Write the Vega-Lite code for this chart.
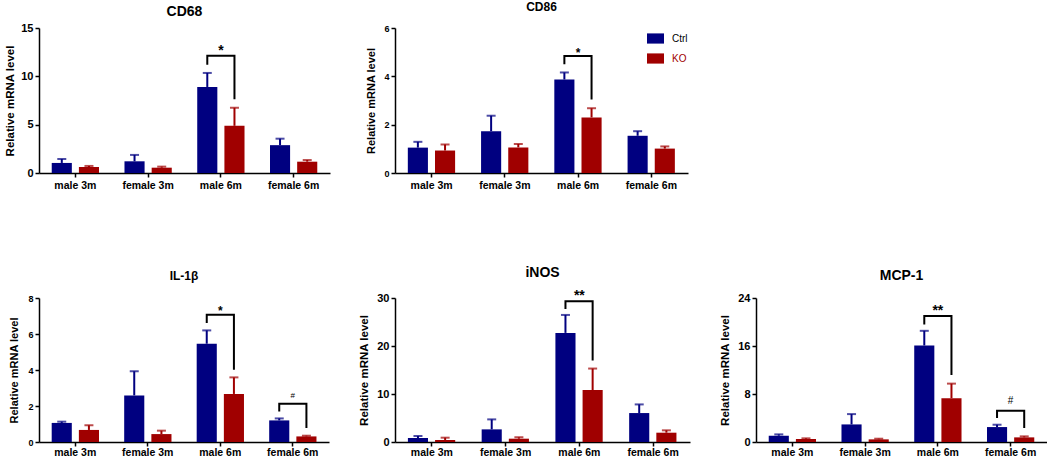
{
"$schema": "https://vega.github.io/schema/vega-lite/v6.json",
"padding": {"left": 4, "top": 1, "right": 0, "bottom": 0},
"datasets": {
"bars": [
{"p":"CD68","cat":"male 3m","grp":"Ctrl","v":1.04,"e":1.45},
{"p":"CD68","cat":"male 3m","grp":"KO","v":0.62,"e":0.73},
{"p":"CD68","cat":"female 3m","grp":"Ctrl","v":1.21,"e":1.87},
{"p":"CD68","cat":"female 3m","grp":"KO","v":0.55,"e":0.66},
{"p":"CD68","cat":"male 6m","grp":"Ctrl","v":8.9,"e":10.35},
{"p":"CD68","cat":"male 6m","grp":"KO","v":4.88,"e":6.75},
{"p":"CD68","cat":"female 6m","grp":"Ctrl","v":2.88,"e":3.55},
{"p":"CD68","cat":"female 6m","grp":"KO","v":1.17,"e":1.34},
{"p":"CD86","cat":"male 3m","grp":"Ctrl","v":1.05,"e":1.29},
{"p":"CD86","cat":"male 3m","grp":"KO","v":0.93,"e":1.18},
{"p":"CD86","cat":"female 3m","grp":"Ctrl","v":1.73,"e":2.37},
{"p":"CD86","cat":"female 3m","grp":"KO","v":1.06,"e":1.2},
{"p":"CD86","cat":"male 6m","grp":"Ctrl","v":3.87,"e":4.16},
{"p":"CD86","cat":"male 6m","grp":"KO","v":2.3,"e":2.68},
{"p":"CD86","cat":"female 6m","grp":"Ctrl","v":1.54,"e":1.73},
{"p":"CD86","cat":"female 6m","grp":"KO","v":1.01,"e":1.1},
{"p":"IL1b","cat":"male 3m","grp":"Ctrl","v":1.06,"e":1.13},
{"p":"IL1b","cat":"male 3m","grp":"KO","v":0.67,"e":0.93},
{"p":"IL1b","cat":"female 3m","grp":"Ctrl","v":2.59,"e":3.93},
{"p":"IL1b","cat":"female 3m","grp":"KO","v":0.44,"e":0.63},
{"p":"IL1b","cat":"male 6m","grp":"Ctrl","v":5.46,"e":6.2},
{"p":"IL1b","cat":"male 6m","grp":"KO","v":2.67,"e":3.59},
{"p":"IL1b","cat":"female 6m","grp":"Ctrl","v":1.2,"e":1.31},
{"p":"IL1b","cat":"female 6m","grp":"KO","v":0.31,"e":0.35},
{"p":"iNOS","cat":"male 3m","grp":"Ctrl","v":0.83,"e":1.25},
{"p":"iNOS","cat":"male 3m","grp":"KO","v":0.42,"e":0.9},
{"p":"iNOS","cat":"female 3m","grp":"Ctrl","v":2.63,"e":4.71},
{"p":"iNOS","cat":"female 3m","grp":"KO","v":0.69,"e":0.97},
{"p":"iNOS","cat":"male 6m","grp":"Ctrl","v":22.73,"e":26.47},
{"p":"iNOS","cat":"male 6m","grp":"KO","v":10.81,"e":15.3},
{"p":"iNOS","cat":"female 6m","grp":"Ctrl","v":6.03,"e":7.83},
{"p":"iNOS","cat":"female 6m","grp":"KO","v":1.94,"e":2.43},
{"p":"MCP1","cat":"male 3m","grp":"Ctrl","v":1.05,"e":1.27},
{"p":"MCP1","cat":"male 3m","grp":"KO","v":0.5,"e":0.61},
{"p":"MCP1","cat":"female 3m","grp":"Ctrl","v":2.93,"e":4.65},
{"p":"MCP1","cat":"female 3m","grp":"KO","v":0.44,"e":0.55},
{"p":"MCP1","cat":"male 6m","grp":"Ctrl","v":16.09,"e":18.53},
{"p":"MCP1","cat":"male 6m","grp":"KO","v":7.3,"e":9.73},
{"p":"MCP1","cat":"female 6m","grp":"Ctrl","v":2.49,"e":2.88},
{"p":"MCP1","cat":"female 6m","grp":"KO","v":0.77,"e":0.94}
],
"brk": [
{"p":"CD68","b":"a","cat":"male 6m","grp":"Ctrl","y":11.19,"o":1},
{"p":"CD68","b":"a","cat":"male 6m","grp":"Ctrl","y":12.12,"o":2},
{"p":"CD68","b":"a","cat":"male 6m","grp":"KO","y":12.12,"o":3},
{"p":"CD68","b":"a","cat":"male 6m","grp":"KO","y":7.62,"o":4},
{"p":"CD86","b":"a","cat":"male 6m","grp":"Ctrl","y":4.5,"o":1},
{"p":"CD86","b":"a","cat":"male 6m","grp":"Ctrl","y":4.84,"o":2},
{"p":"CD86","b":"a","cat":"male 6m","grp":"KO","y":4.84,"o":3},
{"p":"CD86","b":"a","cat":"male 6m","grp":"KO","y":3.04,"o":4},
{"p":"IL1b","b":"a","cat":"male 6m","grp":"Ctrl","y":6.61,"o":1},
{"p":"IL1b","b":"a","cat":"male 6m","grp":"Ctrl","y":7.07,"o":2},
{"p":"IL1b","b":"a","cat":"male 6m","grp":"KO","y":7.07,"o":3},
{"p":"IL1b","b":"a","cat":"male 6m","grp":"KO","y":4.02,"o":4},
{"p":"IL1b","b":"b","cat":"female 6m","grp":"Ctrl","y":1.7,"o":1},
{"p":"IL1b","b":"b","cat":"female 6m","grp":"Ctrl","y":2.13,"o":2},
{"p":"IL1b","b":"b","cat":"female 6m","grp":"KO","y":2.13,"o":3},
{"p":"IL1b","b":"b","cat":"female 6m","grp":"KO","y":0.78,"o":4},
{"p":"iNOS","b":"a","cat":"male 6m","grp":"Ctrl","y":27.7,"o":1},
{"p":"iNOS","b":"a","cat":"male 6m","grp":"Ctrl","y":29.3,"o":2},
{"p":"iNOS","b":"a","cat":"male 6m","grp":"KO","y":29.3,"o":3},
{"p":"iNOS","b":"a","cat":"male 6m","grp":"KO","y":16.98,"o":4},
{"p":"MCP1","b":"a","cat":"male 6m","grp":"Ctrl","y":19.6,"o":1},
{"p":"MCP1","b":"a","cat":"male 6m","grp":"Ctrl","y":21.0,"o":2},
{"p":"MCP1","b":"a","cat":"male 6m","grp":"KO","y":21.0,"o":3},
{"p":"MCP1","b":"a","cat":"male 6m","grp":"KO","y":11.17,"o":4},
{"p":"MCP1","b":"b","cat":"female 6m","grp":"Ctrl","y":3.98,"o":1},
{"p":"MCP1","b":"b","cat":"female 6m","grp":"Ctrl","y":5.2,"o":2},
{"p":"MCP1","b":"b","cat":"female 6m","grp":"KO","y":5.2,"o":3},
{"p":"MCP1","b":"b","cat":"female 6m","grp":"KO","y":2.32,"o":4}
],
"sig": [
{"p":"CD68","cat":"male 6m","y":12.2,"t":"*"},
{"p":"CD86","cat":"male 6m","y":4.8,"t":"*"},
{"p":"IL1b","cat":"male 6m","y":7.07,"t":"*"},
{"p":"IL1b","cat":"female 6m","y":2.43,"t":"#"},
{"p":"iNOS","cat":"male 6m","y":29.5,"t":"**"},
{"p":"MCP1","cat":"male 6m","y":21.2,"t":"**"},
{"p":"MCP1","cat":"female 6m","y":6.35,"t":"#"}
]
},
"resolve": {"scale": {"color": "independent", "fill": "independent", "stroke": "independent"}, "legend": {"color": "independent"}},
"vconcat": [
{
"resolve": {"scale": {"color": "independent", "fill": "independent", "stroke": "independent"}, "legend": {"color": "independent"}},
"spacing": 35,
"hconcat": [
{
"width": 291, "height": 145,
"title": {"text": "CD68", "fontSize": 14, "offset": 3},
"encoding": {"x": {"field": "cat", "type": "nominal", "sort": ["male 3m","female 3m","male 6m","female 6m"], "scale": {"paddingInner": 0.35, "paddingOuter": 0.175}, "axis": {"title": null, "labelFontSize": 10.5}}},
"layer": [
{"data": {"name": "bars"}, "transform": [{"filter": "datum.p==='CD68'"}], "mark": {"type": "bar"},
 "encoding": {"xOffset": {"field": "grp", "type": "nominal", "sort": ["Ctrl","KO"], "scale": {"paddingInner": 0.26}},
  "y": {"field": "v", "type": "quantitative", "scale": {"domain": [0, 15], "nice": false}, "axis": {"values": [0,5,10,15], "title": "Relative mRNA level", "labelFontSize": 11, "titleFontSize": 11.5, "labelPadding": 2, "titlePadding": 5}},
  "color": {"field": "grp", "type": "nominal", "scale": {"domain": ["Ctrl","KO"], "range": ["#000080","#A00000"]}, "legend": null}}},
{"data": {"name": "bars"}, "transform": [{"filter": "datum.p==='CD68'"}], "mark": {"type": "rule", "strokeWidth": 2},
 "encoding": {"xOffset": {"field": "grp", "type": "nominal", "sort": ["Ctrl","KO"]}, "y": {"field": "v", "type": "quantitative"}, "y2": {"field": "e"},
  "stroke": {"field": "grp", "type": "nominal", "scale": {"domain": ["Ctrl","KO"], "range": ["#000080","#A00000"]}, "legend": null}}},
{"data": {"name": "bars"}, "transform": [{"filter": "datum.p==='CD68'"}], "mark": {"type": "tick", "size": 9, "thickness": 2},
 "encoding": {"xOffset": {"field": "grp", "type": "nominal", "sort": ["Ctrl","KO"]}, "y": {"field": "e", "type": "quantitative"},
  "fill": {"field": "grp", "type": "nominal", "scale": {"domain": ["Ctrl","KO"], "range": ["#000080","#A00000"]}, "legend": null}}},
{"data": {"name": "brk"}, "transform": [{"filter": "datum.p==='CD68'"}], "mark": {"type": "line", "color": "#000", "strokeWidth": 2},
 "encoding": {"xOffset": {"field": "grp", "type": "nominal", "sort": ["Ctrl","KO"]}, "y": {"field": "y", "type": "quantitative"}, "detail": {"field": "b"}, "order": {"field": "o"}}},
{"data": {"name": "sig"}, "transform": [{"filter": "datum.p==='CD68'"}], "mark": {"type": "text", "fontSize": 14, "fontWeight": "bold", "baseline": "alphabetic", "color": "#000"},
 "encoding": {"y": {"field": "y", "type": "quantitative"}, "text": {"field": "t"}}}
]
},
{
"width": 293, "height": 145,
"title": {"text": "CD86", "fontSize": 12, "offset": 10},
"encoding": {"x": {"field": "cat", "type": "nominal", "sort": ["male 3m","female 3m","male 6m","female 6m"], "scale": {"paddingInner": 0.35, "paddingOuter": 0.175}, "axis": {"title": null, "labelFontSize": 10.5}}},
"layer": [
{"data": {"name": "bars"}, "transform": [{"filter": "datum.p==='CD86'"}], "mark": {"type": "bar"},
 "encoding": {"xOffset": {"field": "grp", "type": "nominal", "sort": ["Ctrl","KO"], "scale": {"paddingInner": 0.26}},
  "y": {"field": "v", "type": "quantitative", "scale": {"domain": [0, 6], "nice": false}, "axis": {"values": [0,2,4,6], "tickCount": 4, "title": "Relative mRNA level", "labelFontSize": 9, "titleFontSize": 11, "labelPadding": 2, "titlePadding": 7, "labelOverlap": false}},
  "color": {"field": "grp", "type": "nominal", "scale": {"domain": ["Ctrl","KO"], "range": ["#000080","#A00000"]},
   "legend": {"title": null, "orient": "none", "legendX": 252, "legendY": 2, "symbolType": "M-1,-0.6H1V0.6H-1Z", "symbolSize": 289, "symbolStrokeWidth": 0, "labelFontSize": 10, "labelFont": "Liberation Sans", "labelOffset": 8, "rowPadding": 6,
    "encode": {"labels": {"update": {"fill": {"signal": "datum.label === 'KO' ? '#A00000' : '#000000'"}}}}}}}},
{"data": {"name": "bars"}, "transform": [{"filter": "datum.p==='CD86'"}], "mark": {"type": "rule", "strokeWidth": 2},
 "encoding": {"xOffset": {"field": "grp", "type": "nominal", "sort": ["Ctrl","KO"]}, "y": {"field": "v", "type": "quantitative"}, "y2": {"field": "e"},
  "stroke": {"field": "grp", "type": "nominal", "scale": {"domain": ["Ctrl","KO"], "range": ["#000080","#A00000"]}, "legend": null}}},
{"data": {"name": "bars"}, "transform": [{"filter": "datum.p==='CD86'"}], "mark": {"type": "tick", "size": 9, "thickness": 2},
 "encoding": {"xOffset": {"field": "grp", "type": "nominal", "sort": ["Ctrl","KO"]}, "y": {"field": "e", "type": "quantitative"},
  "fill": {"field": "grp", "type": "nominal", "scale": {"domain": ["Ctrl","KO"], "range": ["#000080","#A00000"]}, "legend": null}}},
{"data": {"name": "brk"}, "transform": [{"filter": "datum.p==='CD86'"}], "mark": {"type": "line", "color": "#000", "strokeWidth": 2},
 "encoding": {"xOffset": {"field": "grp", "type": "nominal", "sort": ["Ctrl","KO"]}, "y": {"field": "y", "type": "quantitative"}, "detail": {"field": "b"}, "order": {"field": "o"}}},
{"data": {"name": "sig"}, "transform": [{"filter": "datum.p==='CD86'"}], "mark": {"type": "text", "fontSize": 12, "fontWeight": "bold", "baseline": "alphabetic", "color": "#000"},
 "encoding": {"y": {"field": "y", "type": "quantitative"}, "text": {"field": "t"}}}
]
}
]
},
{
"resolve": {"scale": {"color": "independent", "fill": "independent", "stroke": "independent"}, "legend": {"color": "independent"}},
"spacing": 29,
"hconcat": [
{
"width": 290, "height": 144,
"title": {"text": "IL-1β", "fontSize": 12, "offset": 11},
"encoding": {"x": {"field": "cat", "type": "nominal", "sort": ["male 3m","female 3m","male 6m","female 6m"], "scale": {"paddingInner": 0.35, "paddingOuter": 0.175}, "axis": {"title": null, "labelFontSize": 10.5, "labelPadding": 1}}},
"layer": [
{"data": {"name": "bars"}, "transform": [{"filter": "datum.p==='IL1b'"}], "mark": {"type": "bar"},
 "encoding": {"xOffset": {"field": "grp", "type": "nominal", "sort": ["Ctrl","KO"], "scale": {"paddingInner": 0.26}},
  "y": {"field": "v", "type": "quantitative", "scale": {"domain": [0, 8], "nice": false}, "axis": {"values": [0,2,4,6,8], "tickCount": 5, "title": "Relative mRNA level", "labelFontSize": 9, "titleFontSize": 11, "labelPadding": 2, "titlePadding": 8, "labelOverlap": false}},
  "color": {"field": "grp", "type": "nominal", "scale": {"domain": ["Ctrl","KO"], "range": ["#000080","#A00000"]}, "legend": null}}},
{"data": {"name": "bars"}, "transform": [{"filter": "datum.p==='IL1b'"}], "mark": {"type": "rule", "strokeWidth": 2},
 "encoding": {"xOffset": {"field": "grp", "type": "nominal", "sort": ["Ctrl","KO"]}, "y": {"field": "v", "type": "quantitative"}, "y2": {"field": "e"},
  "stroke": {"field": "grp", "type": "nominal", "scale": {"domain": ["Ctrl","KO"], "range": ["#000080","#A00000"]}, "legend": null}}},
{"data": {"name": "bars"}, "transform": [{"filter": "datum.p==='IL1b'"}], "mark": {"type": "tick", "size": 9, "thickness": 2},
 "encoding": {"xOffset": {"field": "grp", "type": "nominal", "sort": ["Ctrl","KO"]}, "y": {"field": "e", "type": "quantitative"},
  "fill": {"field": "grp", "type": "nominal", "scale": {"domain": ["Ctrl","KO"], "range": ["#000080","#A00000"]}, "legend": null}}},
{"data": {"name": "brk"}, "transform": [{"filter": "datum.p==='IL1b'"}], "mark": {"type": "line", "color": "#000", "strokeWidth": 2},
 "encoding": {"xOffset": {"field": "grp", "type": "nominal", "sort": ["Ctrl","KO"]}, "y": {"field": "y", "type": "quantitative"}, "detail": {"field": "b"}, "order": {"field": "o"}}},
{"data": {"name": "sig"}, "transform": [{"filter": "datum.p==='IL1b' && datum.t!=='#'"}], "mark": {"type": "text", "fontSize": 12, "fontWeight": "bold", "baseline": "alphabetic", "color": "#000"},
 "encoding": {"y": {"field": "y", "type": "quantitative"}, "text": {"field": "t"}}},
{"data": {"name": "sig"}, "transform": [{"filter": "datum.p==='IL1b' && datum.t==='#'"}], "mark": {"type": "text", "fontSize": 8, "baseline": "alphabetic", "color": "#000"},
 "encoding": {"y": {"field": "y", "type": "quantitative"}, "text": {"field": "t"}}}
]
},
{
"width": 295, "height": 144,
"title": {"text": "iNOS", "fontSize": 14, "offset": 9},
"encoding": {"x": {"field": "cat", "type": "nominal", "sort": ["male 3m","female 3m","male 6m","female 6m"], "scale": {"paddingInner": 0.35, "paddingOuter": 0.175}, "axis": {"title": null, "labelFontSize": 10.5, "labelPadding": 1}}},
"layer": [
{"data": {"name": "bars"}, "transform": [{"filter": "datum.p==='iNOS'"}], "mark": {"type": "bar"},
 "encoding": {"xOffset": {"field": "grp", "type": "nominal", "sort": ["Ctrl","KO"], "scale": {"paddingInner": 0.26}},
  "y": {"field": "v", "type": "quantitative", "scale": {"domain": [0, 30], "nice": false}, "axis": {"values": [0,10,20,30], "title": "Relative mRNA level", "labelFontSize": 11, "titleFontSize": 11.5, "labelPadding": 2, "titlePadding": 7}},
  "color": {"field": "grp", "type": "nominal", "scale": {"domain": ["Ctrl","KO"], "range": ["#000080","#A00000"]}, "legend": null}}},
{"data": {"name": "bars"}, "transform": [{"filter": "datum.p==='iNOS'"}], "mark": {"type": "rule", "strokeWidth": 2},
 "encoding": {"xOffset": {"field": "grp", "type": "nominal", "sort": ["Ctrl","KO"]}, "y": {"field": "v", "type": "quantitative"}, "y2": {"field": "e"},
  "stroke": {"field": "grp", "type": "nominal", "scale": {"domain": ["Ctrl","KO"], "range": ["#000080","#A00000"]}, "legend": null}}},
{"data": {"name": "bars"}, "transform": [{"filter": "datum.p==='iNOS'"}], "mark": {"type": "tick", "size": 9, "thickness": 2},
 "encoding": {"xOffset": {"field": "grp", "type": "nominal", "sort": ["Ctrl","KO"]}, "y": {"field": "e", "type": "quantitative"},
  "fill": {"field": "grp", "type": "nominal", "scale": {"domain": ["Ctrl","KO"], "range": ["#000080","#A00000"]}, "legend": null}}},
{"data": {"name": "brk"}, "transform": [{"filter": "datum.p==='iNOS'"}], "mark": {"type": "line", "color": "#000", "strokeWidth": 2},
 "encoding": {"xOffset": {"field": "grp", "type": "nominal", "sort": ["Ctrl","KO"]}, "y": {"field": "y", "type": "quantitative"}, "detail": {"field": "b"}, "order": {"field": "o"}}},
{"data": {"name": "sig"}, "transform": [{"filter": "datum.p==='iNOS'"}], "mark": {"type": "text", "fontSize": 14, "fontWeight": "bold", "baseline": "alphabetic", "color": "#000"},
 "encoding": {"y": {"field": "y", "type": "quantitative"}, "text": {"field": "t"}}}
]
},
{
"width": 291, "height": 144,
"title": {"text": "MCP-1", "fontSize": 14, "offset": 9},
"encoding": {"x": {"field": "cat", "type": "nominal", "sort": ["male 3m","female 3m","male 6m","female 6m"], "scale": {"paddingInner": 0.35, "paddingOuter": 0.175}, "axis": {"title": null, "labelFontSize": 10.5, "labelPadding": 1}}},
"layer": [
{"data": {"name": "bars"}, "transform": [{"filter": "datum.p==='MCP1'"}], "mark": {"type": "bar"},
 "encoding": {"xOffset": {"field": "grp", "type": "nominal", "sort": ["Ctrl","KO"], "scale": {"paddingInner": 0.26}},
  "y": {"field": "v", "type": "quantitative", "scale": {"domain": [0, 24], "nice": false}, "axis": {"values": [0,8,16,24], "title": "Relative mRNA level", "labelFontSize": 11, "titleFontSize": 11.5, "labelPadding": 2, "titlePadding": 7}},
  "color": {"field": "grp", "type": "nominal", "scale": {"domain": ["Ctrl","KO"], "range": ["#000080","#A00000"]}, "legend": null}}},
{"data": {"name": "bars"}, "transform": [{"filter": "datum.p==='MCP1'"}], "mark": {"type": "rule", "strokeWidth": 2},
 "encoding": {"xOffset": {"field": "grp", "type": "nominal", "sort": ["Ctrl","KO"]}, "y": {"field": "v", "type": "quantitative"}, "y2": {"field": "e"},
  "stroke": {"field": "grp", "type": "nominal", "scale": {"domain": ["Ctrl","KO"], "range": ["#000080","#A00000"]}, "legend": null}}},
{"data": {"name": "bars"}, "transform": [{"filter": "datum.p==='MCP1'"}], "mark": {"type": "tick", "size": 9, "thickness": 2},
 "encoding": {"xOffset": {"field": "grp", "type": "nominal", "sort": ["Ctrl","KO"]}, "y": {"field": "e", "type": "quantitative"},
  "fill": {"field": "grp", "type": "nominal", "scale": {"domain": ["Ctrl","KO"], "range": ["#000080","#A00000"]}, "legend": null}}},
{"data": {"name": "brk"}, "transform": [{"filter": "datum.p==='MCP1'"}], "mark": {"type": "line", "color": "#000", "strokeWidth": 2},
 "encoding": {"xOffset": {"field": "grp", "type": "nominal", "sort": ["Ctrl","KO"]}, "y": {"field": "y", "type": "quantitative"}, "detail": {"field": "b"}, "order": {"field": "o"}}},
{"data": {"name": "sig"}, "transform": [{"filter": "datum.p==='MCP1' && datum.t!=='#'"}], "mark": {"type": "text", "fontSize": 14, "fontWeight": "bold", "baseline": "alphabetic", "color": "#000"},
 "encoding": {"y": {"field": "y", "type": "quantitative"}, "text": {"field": "t"}}},
{"data": {"name": "sig"}, "transform": [{"filter": "datum.p==='MCP1' && datum.t==='#'"}], "mark": {"type": "text", "fontSize": 10, "baseline": "alphabetic", "color": "#000"},
 "encoding": {"y": {"field": "y", "type": "quantitative"}, "text": {"field": "t"}}}
]
}
]
}
],
"spacing": 75,
"config": {
 "font": "Liberation Sans",
 "view": {"stroke": null},
 "axis": {"domainColor": "#000", "domainWidth": 1.5, "tickColor": "#000", "tickWidth": 1.5, "tickSize": 4, "labelColor": "#000", "labelFontWeight": "bold", "titleFontWeight": "bold", "titleColor": "#000", "grid": false, "labelFont": "Liberation Sans", "titleFont": "Liberation Sans"},
 "axisX": {"labelAngle": 0, "labelPadding": 3},
 "title": {"font": "Liberation Sans", "fontWeight": "bold", "color": "#000"}
}
}
